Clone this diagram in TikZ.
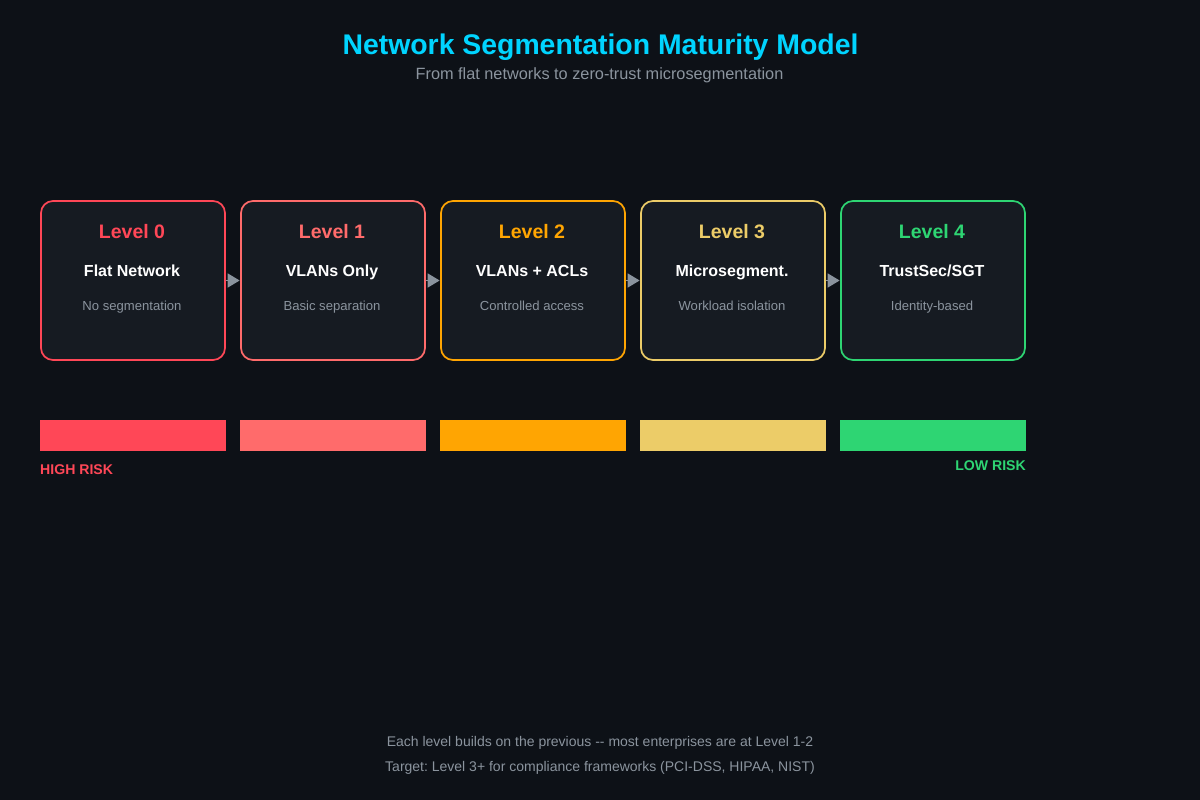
\documentclass[tikz,border=0pt]{standalone}
\usepackage{fontspec}
\setmainfont{Liberation Sans}
\usetikzlibrary{arrows.meta}
\frenchspacing

\definecolor{bgdark}{HTML}{0D1117}
\definecolor{boxfill}{HTML}{161B22}
\definecolor{titleblue}{HTML}{00D4FF}
\definecolor{subgray}{HTML}{8B949E}
\definecolor{arrowgray}{HTML}{8B949E}
\definecolor{lvlzero}{HTML}{FF4757}
\definecolor{lvlone}{HTML}{FF6B6B}
\definecolor{lvltwo}{HTML}{FFA502}
\definecolor{lvlthree}{HTML}{ECCC68}
\definecolor{lvlfour}{HTML}{2ED573}

\tikzset{
levelbox/.style={draw=#1, fill=boxfill, line width=1.7pt, rounded corners=12,
    minimum width=184, minimum height=159, inner sep=0pt},
riskbar/.style={fill=#1, minimum width=186, minimum height=31, inner sep=0pt},
leveltitle/.style={text=#1, font=\fontsize{19.5}{22}\selectfont\bfseries, anchor=base},
levelname/.style={text=white, font=\fontsize{16}{18}\selectfont\bfseries, anchor=base},
leveldesc/.style={text=subgray, font=\fontsize{13.1}{16}\selectfont, anchor=base},
footnote/.style={text=subgray, font=\fontsize{14}{16}\selectfont, anchor=base},
risklabel/.style={text=#1, font=\fontsize{14.1}{16}\selectfont\bfseries, inner sep=0pt},
stepline/.style={draw=arrowgray, line width=1.5pt, -{Triangle[length=12,width=14]}, shorten >=0.5pt}
}

\begin{document}
\begin{tikzpicture}[x=1pt,y=1pt,yscale=-1,xscale=1]

    \useasboundingbox (0,0) rectangle (1200,800);
    \fill[bgdark] (0,0) rectangle (1200,800);

    \node[text=titleblue, font=\fontsize{28.4}{32}\selectfont\bfseries, anchor=base] (title) at (600.5,55) {Network Segmentation Maturity Model};
    \node[text=subgray, font=\fontsize{16.3}{18}\selectfont, anchor=base] (subtitle) at (599.5,80) {From flat networks to zero-trust microsegmentation};

    \foreach \i/\c/\lname/\ldesc in {
        0/lvlzero/Flat Network/No segmentation,
        1/lvlone/VLANs Only/Basic separation,
        2/lvltwo/VLANs + ACLs/Controlled access,
        3/lvlthree/Microsegment./Workload isolation,
        4/lvlfour/{TrustSec/SGT}/Identity-based
    }{
        \pgfmathsetmacro\cx{133+200*\i}
        \node[levelbox=\c] (box\i) at (\cx,280.5) {};
        \node[leveltitle=\c] (lvl\i) at (\cx-1,238) {Level \i};
        \node[levelname] (name\i) at (\cx-1,276) {\lname};
        \node[leveldesc] (desc\i) at (\cx-1,310) {\ldesc};
        \node[riskbar=\c] (bar\i) at (\cx,435.5) {};
    }

    % arrows sit in the gaps between the boxes
    \foreach \a/\b in {0/1,1/2,2/3,3/4}{
        \draw[stepline] (box\a.east) -- (box\b.west);
    }

    \node[risklabel=lvlzero, anchor=base west] (highrisk) at (40,474) {HIGH RISK};
    \node[risklabel=lvlfour, anchor=base east] (lowrisk) at (1026,470) {LOW RISK};

    \node[footnote] (foot1) at (600,746) {Each level builds on the previous {-}{-} most enterprises are at Level 1-2};
    \node[footnote] (foot2) at (600,771) {Target: Level 3+ for compliance frameworks (PCI-DSS, HIPAA, NIST)};

\end{tikzpicture}
\end{document}
